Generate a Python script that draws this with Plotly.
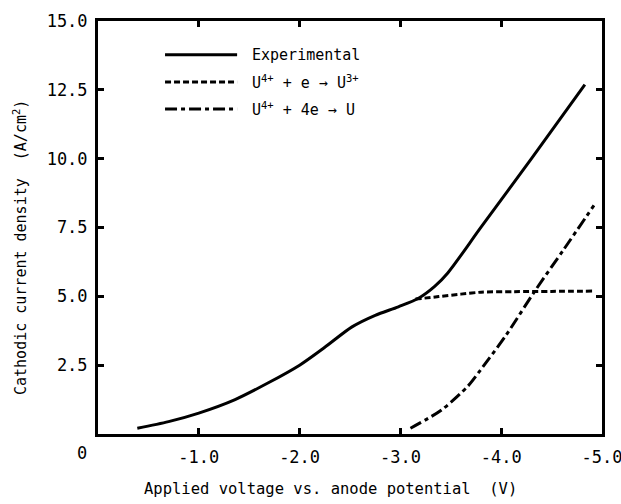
import plotly.graph_objects as go

# Data
exp_x = [-0.39, -0.70, -1.00, -1.36, -1.69, -2.00, -2.25, -2.52, -2.75, -2.98, -3.18, -3.34, -3.47, -3.80, -4.30, -4.83]
exp_y = [0.21, 0.45, 0.76, 1.25, 1.86, 2.50, 3.15, 3.89, 4.31, 4.62, 4.93, 5.36, 5.85, 7.51, 10.00, 12.69]

u3_x = [-3.15, -3.38, -3.60, -3.80, -4.13, -4.50, -4.91]
u3_y = [4.90, 4.99, 5.08, 5.15, 5.17, 5.18, 5.19]

u_x = [-3.10, -3.41, -3.67, -3.80, -4.05, -4.33, -4.62, -4.92]
u_y = [0.21, 0.88, 1.74, 2.35, 3.60, 5.17, 6.70, 8.30]

x_ticks = [-1, -2, -3, -4, -5]
x_ticktext = ["-1.0", "-2.0", "-3.0", "-4.0", "-5.0"]
y_ticks = [2.5, 5.0, 7.5, 10.0, 12.5, 15.0]
y_ticktext = ["2.5", "5.0", "7.5", "10.0", "12.5", "15.0"]

legend_names = ["Experimental", "U<sup>4+</sup> + e → U<sup>3+</sup>", "U<sup>4+</sup> + 4e → U"]
legend_dash = ["solid", "6px,3px", "12px,4px,4px,4px"]

FONT = "DejaVu Sans Mono"

fig = go.Figure()
fig.add_trace(go.Scatter(x=exp_x, y=exp_y, mode="lines", line=dict(color="black", width=3, shape="spline", smoothing=0.8), showlegend=False))
fig.add_trace(go.Scatter(x=u3_x, y=u3_y, mode="lines", line=dict(color="black", width=3, dash=legend_dash[1], shape="spline", smoothing=0.8), showlegend=False))
fig.add_trace(go.Scatter(x=u_x, y=u_y, mode="lines", line=dict(color="black", width=3, dash=legend_dash[2], shape="spline", smoothing=0.8), showlegend=False))

# manual legend
rows = [0.918, 0.852, 0.787]
for name, dash, yy in zip(legend_names, legend_dash, rows):
    fig.add_shape(type="line", xref="paper", yref="paper", x0=0.133, x1=0.276, y0=yy, y1=yy,
                  line=dict(color="black", width=3, dash=dash))
    fig.add_annotation(xref="paper", yref="paper", x=0.302, y=yy, text=name, showarrow=False,
                       xanchor="left", yanchor="middle", font=dict(family=FONT, size=15, color="black"))

# titles and corner zero
fig.add_annotation(xref="paper", yref="paper", x=(330 - 98) / 504, y=(434 - 489) / 413,
                   text="Applied voltage vs. anode potential  (V)", showarrow=False,
                   xanchor="center", yanchor="middle", font=dict(family=FONT, size=15.5, color="black"))
fig.add_annotation(xref="paper", yref="paper", x=(20 - 98) / 504, y=(434 - 248) / 413,
                   text="Cathodic current density  (A/cm<sup>2</sup>)", showarrow=False, textangle=-90,
                   xanchor="center", yanchor="middle", font=dict(family=FONT, size=15, color="black"))
fig.add_annotation(xref="paper", yref="paper", x=(82 - 98) / 504, y=(434 - 453) / 413,
                   text="0", showarrow=False, xanchor="center", yanchor="middle",
                   font=dict(family=FONT, size=17, color="black"))

axis_common = dict(showline=True, linewidth=3, linecolor="black", mirror="ticks", ticks="inside",
                   ticklen=6, tickwidth=3, tickcolor="black", showgrid=False, zeroline=False,
                   ticklabeloverflow="allow", automargin=False,
                   tickfont=dict(family=FONT, size=17, color="black"))

fig.update_xaxes(range=[0, -5], tickvals=x_ticks, ticktext=x_ticktext, ticklabelstandoff=6, **axis_common)
fig.update_yaxes(range=[0, 15], tickvals=y_ticks, ticktext=y_ticktext, ticklabelstandoff=4, **axis_common)

fig.update_layout(width=621, height=504, margin=dict(l=98, r=19, t=21, b=70, autoexpand=False),
                  plot_bgcolor="white", paper_bgcolor="white", showlegend=False)

fig.write_html("out.html", config={"displayModeBar": False},
               post_script="document.body.style.margin='0';document.body.style.overflow='hidden';")
